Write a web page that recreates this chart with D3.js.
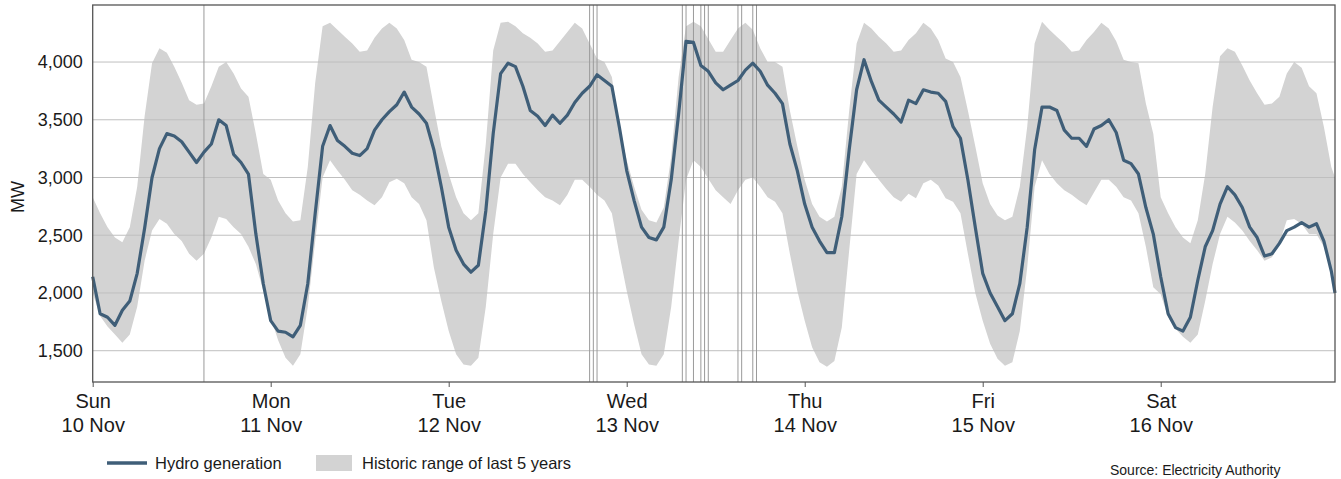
<!DOCTYPE html>
<html>
<head>
<meta charset="utf-8">
<script src="https://cdn.jsdelivr.net/npm/d3@7"></script>
<style>
  body { margin: 0; background: #fff; }
  text { font-family: "Liberation Sans", Arial, sans-serif; fill: #1a1a1a; }
</style>
</head>
<body>
<svg id="chart" width="1341" height="479"></svg>
<script>
// hourly values, Sun 10 Nov 00:00 .. Sat 16 Nov 23:00, plus the 23:30 point at the end
const hydro = [
  2140, 1820, 1790, 1720, 1850, 1930, 2170, 2560, 3000, 3250, 3380, 3360, 3310, 3220, 3130, 3220, 3290, 3500, 3450, 3200, 3130, 3030, 2510, 2080,
  1760, 1670, 1660, 1620, 1720, 2080, 2690, 3270, 3450, 3320, 3270, 3210, 3190, 3250, 3410, 3500, 3570, 3630, 3740, 3610, 3550, 3470, 3240, 2920,
  2570, 2370, 2250, 2180, 2240, 2710, 3380, 3900, 3990, 3960, 3790, 3580, 3530, 3450, 3540, 3470, 3540, 3650, 3730, 3790, 3890, 3840, 3790, 3440,
  3060, 2800, 2570, 2480, 2460, 2570, 2980, 3550, 4180, 4170, 3970, 3920, 3820, 3760, 3800, 3840, 3930, 3990, 3920, 3800, 3730, 3640, 3290, 3060,
  2770, 2570, 2450, 2350, 2350, 2660, 3240, 3760, 4020, 3830, 3670, 3610, 3550, 3480, 3670, 3640, 3760, 3740, 3730, 3660, 3440, 3340, 2980, 2570,
  2170, 2000, 1880, 1760, 1820, 2080, 2570, 3240, 3610, 3610, 3580, 3410, 3340, 3340, 3270, 3420, 3450, 3500, 3390, 3150, 3120, 3030, 2740, 2510,
  2140, 1820, 1700, 1670, 1790, 2110, 2400, 2540, 2770, 2920, 2850, 2740, 2570, 2480, 2320, 2340, 2430, 2540, 2570, 2610, 2570, 2600, 2450, 2190,
  2000
];
const rangeHigh = [
  2830, 2690, 2570, 2480, 2440, 2570, 2920, 3530, 3990, 4120, 4080, 3960, 3820, 3670, 3630, 3640, 3790, 3960, 4000, 3900, 3770, 3700, 3380, 3030,
  2980, 2800, 2690, 2620, 2630, 3090, 3820, 4310, 4340, 4280, 4220, 4160, 4090, 4100, 4210, 4290, 4340, 4290, 4190, 4020, 4000, 3960, 3610, 3270,
  3030, 2830, 2690, 2630, 2690, 3290, 4100, 4340, 4350, 4310, 4250, 4210, 4160, 4090, 4100, 4180, 4260, 4340, 4290, 4160, 4030, 4000, 3870, 3440,
  3150, 2920, 2720, 2630, 2610, 2740, 3180, 3870, 4310, 4350, 4310, 4200, 4090, 4090, 4190, 4290, 4340, 4280, 4120, 4000, 4000, 3960, 3580, 3270,
  2980, 2770, 2660, 2620, 2660, 2920, 3580, 4160, 4340, 4290, 4220, 4160, 4090, 4100, 4190, 4250, 4340, 4290, 4190, 4030, 4000, 3870, 3580, 3270,
  2950, 2770, 2670, 2630, 2660, 2920, 3440, 4160, 4350, 4280, 4220, 4160, 4090, 4100, 4190, 4260, 4340, 4290, 4180, 4020, 4000, 3990, 3640, 3380,
  2830, 2690, 2570, 2480, 2430, 2630, 3030, 3610, 4050, 4120, 4090, 3970, 3840, 3730, 3630, 3640, 3700, 3900, 4000, 3950, 3790, 3730, 3440, 3090,
  3000
];
const rangeLow = [
  2000, 1800, 1710, 1640, 1570, 1640, 1880, 2280, 2540, 2640, 2600, 2510, 2450, 2340, 2280, 2340, 2480, 2660, 2640, 2570, 2510, 2400, 2250, 2020,
  1790, 1590, 1440, 1370, 1470, 1880, 2450, 3000, 3150, 3060, 2980, 2890, 2850, 2800, 2760, 2830, 2960, 2990, 2950, 2830, 2770, 2630, 2220, 1930,
  1670, 1470, 1380, 1370, 1440, 1880, 2510, 3000, 3120, 3120, 3030, 2960, 2890, 2830, 2800, 2760, 2850, 2980, 2980, 2920, 2850, 2800, 2690, 2340,
  2020, 1730, 1470, 1380, 1370, 1470, 1880, 2450, 2980, 3150, 3090, 2990, 2890, 2830, 2770, 2890, 2980, 3000, 2920, 2830, 2790, 2690, 2340, 2020,
  1760, 1530, 1400, 1360, 1410, 1700, 2370, 3030, 3150, 3060, 2980, 2900, 2830, 2790, 2860, 2820, 2950, 2980, 2930, 2820, 2790, 2690, 2340, 2000,
  1760, 1560, 1430, 1370, 1400, 1670, 2220, 2920, 3150, 3030, 2950, 2890, 2850, 2800, 2760, 2870, 2980, 2980, 2920, 2830, 2800, 2690, 2400, 2050,
  1990, 1790, 1690, 1620, 1570, 1640, 1930, 2250, 2510, 2660, 2610, 2540, 2450, 2370, 2280, 2310, 2430, 2630, 2640, 2600, 2510, 2510, 2400, 2170,
  1990
];
const dayNames = ["Sun", "Mon", "Tue", "Wed", "Thu", "Fri", "Sat"];
const dayDates = ["10 Nov", "11 Nov", "12 Nov", "13 Nov", "14 Nov", "15 Nov", "16 Nov"];
const yTicks = [1500, 2000, 2500, 3000, 3500, 4000];
const eventTimes = [
  "2019-11-10 15:00",
  "2019-11-12 19:00", "2019-11-12 19:30", "2019-11-12 20:00",
  "2019-11-13 07:30", "2019-11-13 08:00", "2019-11-13 09:00", "2019-11-13 10:00",
  "2019-11-13 10:30", "2019-11-13 11:00", "2019-11-13 15:00", "2019-11-13 15:30",
  "2019-11-13 17:00", "2019-11-13 17:30"
];

const parse = d3.timeParse("%Y-%m-%d %H:%M");
const start = parse("2019-11-10 00:00");
const times = hydro.map((v, i) => d3.timeMinute.offset(start, (i < 168 ? i : 167.5) * 60));
const data = times.map((t, i) => ({ t: t, v: hydro[i], lo: rangeLow[i], hi: rangeHigh[i] }));
const dayTicks = dayNames.map((n, i) => d3.timeDay.offset(start, i));

const svg = d3.select("#chart");
const plotLeft = 92.7, plotRight = 1335, plotTop = 5, plotBottom = 382;

const x = d3.scaleTime().domain([start, times[times.length - 1]]).range([plotLeft, plotRight]);
const y = d3.scaleLinear().domain([1229, 4494]).range([plotBottom, plotTop]);

// historic range band
svg.append("path")
  .datum(data)
  .attr("fill", "#d3d3d3")
  .attr("d", d3.area().x(d => x(d.t)).y0(d => y(d.lo)).y1(d => y(d.hi)));

// horizontal grid
svg.append("g")
  .selectAll("line")
  .data(yTicks)
  .join("line")
  .attr("x1", plotLeft).attr("x2", plotRight)
  .attr("y1", d => y(d)).attr("y2", d => y(d))
  .attr("stroke", "#bfbfbf")
  .attr("stroke-width", 1);

// event markers
svg.append("g")
  .selectAll("line")
  .data(eventTimes.map(parse))
  .join("line")
  .attr("x1", d => x(d)).attr("x2", d => x(d))
  .attr("y1", plotTop).attr("y2", plotBottom)
  .attr("stroke", "#9a9a9a")
  .attr("stroke-width", 1);

// hydro generation
svg.append("path")
  .datum(data)
  .attr("fill", "none")
  .attr("stroke", "#3f5e78")
  .attr("stroke-width", 3.2)
  .attr("stroke-linejoin", "round")
  .attr("d", d3.line().x(d => x(d.t)).y(d => y(d.v)));

// frame
svg.append("rect")
  .attr("x", plotLeft).attr("y", plotTop)
  .attr("width", plotRight - plotLeft).attr("height", plotBottom - plotTop)
  .attr("fill", "none")
  .attr("stroke", "#555")
  .attr("stroke-width", 1.3);

// x axis
const xAxis = svg.append("g")
  .attr("transform", `translate(0,${plotBottom})`)
  .call(d3.axisBottom(x).tickValues(dayTicks).tickSize(5).tickFormat(""));
xAxis.select(".domain").remove();
xAxis.selectAll(".tick line").attr("stroke", "#555");
xAxis.selectAll(".tick").each(function (d, i) {
  const t = d3.select(this).append("text")
    .attr("text-anchor", "middle")
    .attr("fill", "#1a1a1a")
    .style("font-size", "20px");
  t.append("tspan").attr("x", 0).attr("y", 26).text(dayNames[i]);
  t.append("tspan").attr("x", 0).attr("y", 50).text(dayDates[i]);
});

// y axis
const yAxis = svg.append("g")
  .attr("transform", `translate(${plotLeft},0)`)
  .call(d3.axisLeft(y).tickValues(yTicks).tickSize(0).tickPadding(10).tickFormat(d3.format(",")));
yAxis.select(".domain").remove();
yAxis.selectAll("text").style("font-size", "18px").attr("fill", "#1a1a1a");

svg.append("text")
  .attr("transform", "translate(24,197) rotate(-90)")
  .attr("text-anchor", "middle")
  .style("font-size", "18px")
  .text("MW");

// legend
svg.append("line")
  .attr("x1", 107).attr("x2", 147).attr("y1", 463).attr("y2", 463)
  .attr("stroke", "#3f5e78").attr("stroke-width", 3.5);
svg.append("text").attr("x", 155).attr("y", 469).style("font-size", "16.5px").text("Hydro generation");
svg.append("rect")
  .attr("x", 316).attr("y", 455).attr("width", 36).attr("height", 16)
  .attr("fill", "#d3d3d3");
svg.append("text").attr("x", 362).attr("y", 469).style("font-size", "16.5px").text("Historic range of last 5 years");

svg.append("text").attr("x", 1110).attr("y", 475).style("font-size", "14px").text("Source: Electricity Authority");
</script>
</body>
</html>
